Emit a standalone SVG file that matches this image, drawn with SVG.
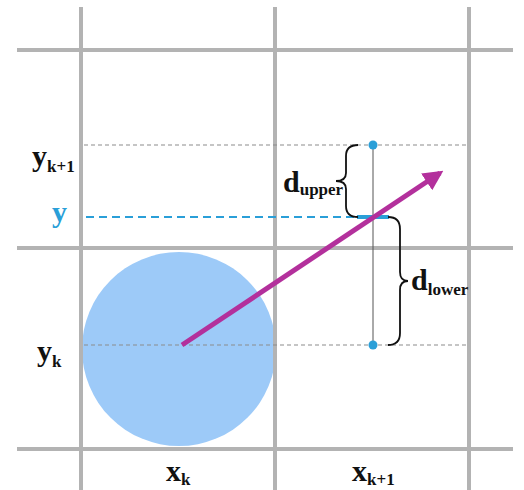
<svg xmlns="http://www.w3.org/2000/svg" width="524" height="490" viewBox="0 0 524 490">
<style>
.grid{stroke:#b3b3b3;stroke-width:4;fill:none}
.dash{stroke:#8c8c8c;stroke-width:1.2;stroke-dasharray:4 3;fill:none}
.bdash{stroke:#2a9fd8;stroke-width:2.2;stroke-dasharray:8 5;fill:none}
.lbl{font-family:"Liberation Serif","DejaVu Serif","Times New Roman",serif;font-weight:bold;fill:#111}
.main{font-size:30px}
.sub{font-size:17px}
.brace{stroke:#111;stroke-width:1.8;fill:none}
.dot{fill:#2a9fd8}
</style>
<defs>
<marker id="ah" markerUnits="userSpaceOnUse" markerWidth="20" markerHeight="20" viewBox="0 0 10 10" refX="8" refY="5" orient="auto">
<path d="M0,0 L10,5 L0,10 z" fill="#b3309c"/>
</marker>
</defs>
<g id="circle"><circle cx="179" cy="349" r="97" fill="#9dcaf8"/></g>
<g id="grid">
<line class="grid" x1="17" y1="50" x2="513" y2="50"/>
<line class="grid" x1="17" y1="248" x2="513" y2="248"/>
<line class="grid" x1="17" y1="449" x2="513" y2="449"/>
<line class="grid" x1="81" y1="7" x2="81" y2="490"/>
<line class="grid" x1="275" y1="7" x2="275" y2="490"/>
<line class="grid" x1="469" y1="7" x2="469" y2="490"/>
</g>
<g id="guides">
<line class="dash" x1="84" y1="145" x2="469" y2="145"/>
<line class="dash" x1="84" y1="345" x2="469" y2="345"/>
<line class="bdash" x1="86" y1="217" x2="356" y2="217"/>
<line x1="373" y1="145" x2="373" y2="345" stroke="#555" stroke-width="1"/>
<line x1="357" y1="217" x2="389" y2="217" stroke="#2a9fd8" stroke-width="4"/>
<circle class="dot" cx="373" cy="145" r="4.5"/>
<circle class="dot" cx="373" cy="345" r="4.5"/>
</g>
<g id="connectors">
<line x1="182" y1="345" x2="440" y2="173" stroke="#b3309c" stroke-width="5" marker-end="url(#ah)"/>
</g>
<g id="braces">
<path class="brace" d="M358,145 Q346,145 346,156 L346,173 Q346,181 336,181 Q346,181 346,189 L346,206 Q346,217 358,217"/>
<path class="brace" d="M388,217 Q400,217 400,229 L400,272 Q400,281 408,281 Q400,281 400,290 L400,333 Q400,345 388,345"/>
</g>
<g id="labels">
<text class="lbl main" x="32" y="166">y<tspan class="sub" dy="6">k+1</tspan></text>
<text class="lbl main" x="52" y="222" style="fill:#2a9fd8">y</text>
<text class="lbl main" x="37" y="361">y<tspan class="sub" dy="6">k</tspan></text>
<text class="lbl main" x="166" y="481">x<tspan class="sub" dy="4">k</tspan></text>
<text class="lbl main" x="352" y="481">x<tspan class="sub" dy="4">k+1</tspan></text>
<text class="lbl main" x="283" y="192">d<tspan class="sub" dy="3">upper</tspan></text>
<text class="lbl main" x="411" y="290">d<tspan class="sub" dy="5">lower</tspan></text>
</g>
</svg>
